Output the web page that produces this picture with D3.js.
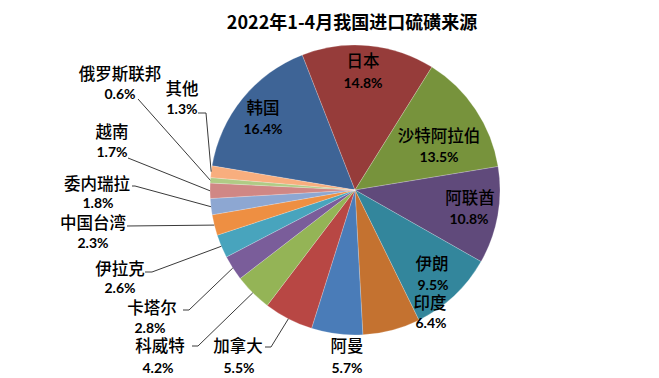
<!DOCTYPE html>
<html><head><meta charset="utf-8">
<script src="https://cdn.jsdelivr.net/npm/d3@7/dist/d3.min.js"></script>
<style>html,body{margin:0;padding:0;background:#fff;}</style>
</head><body><svg id="chart" width="659" height="378"></svg>
<script>
// ---- data ----
const title = "2022年1-4月我国进口硫磺来源";
const categories = ["韩国","日本","沙特阿拉伯","阿联酋","伊朗","印度","阿曼","加拿大","科威特","卡塔尔","伊拉克","中国台湾","委内瑞拉","越南","俄罗斯联邦","其他"];
const shares = [16.4,14.8,13.5,10.8,9.5,6.4,5.7,5.5,4.2,2.8,2.6,2.3,1.8,1.7,0.6,1.3];
const shareLabels = ["16.4%","14.8%","13.5%","10.8%","9.5%","6.4%","5.7%","5.5%","4.2%","2.8%","2.6%","2.3%","1.8%","1.7%","0.6%","1.3%"];

// ---- style / layout ----
const colors = ["#3E6496","#963C3A","#77933C","#604A7B","#33869C","#C47230",
                "#4A7CB8","#B84744","#94B456","#7A5D9A","#48A4BD","#EE8F42",
                "#8DA7D2","#D08785","#B0CB85","#F8AE7E"];
const cx = 355, cy = 190, R = 145;
const startDeg = -80.4;
// label placement: name centre, percent centre, leader start/elbow points
const labelLayout = {
  "韩国":     {x:263, y:107, px:263, py:128},
  "日本":     {x:363, y:60,  px:363, py:82},
  "沙特阿拉伯":{x:439, y:135, px:439, py:156},
  "阿联酋":   {x:470, y:197, px:469, py:218},
  "伊朗":     {x:432, y:263, px:433, py:284},
  "印度":     {x:430, y:302, px:431, py:322},
  "阿曼":     {x:347, y:345, px:347, py:367},
  "加拿大":   {x:238, y:345, px:239, py:367, lead:[[265,347],[271,347]]},
  "科威特":   {x:160, y:345, px:158, py:367, lead:[[192,346],[198,346]]},
  "卡塔尔":   {x:152, y:307, px:150, py:327, lead:[[183,310],[189,310]]},
  "伊拉克":   {x:120, y:268, px:120, py:287, lead:[[145,272],[152,272]]},
  "中国台湾": {x:93,  y:222, px:93,  py:242, lead:[[127,226]]},
  "委内瑞拉": {x:97,  y:183, px:98,  py:202, lead:[[132,186],[135,186]]},
  "越南":     {x:112, y:131, px:112, py:151, lead:[[128,158]]},
  "俄罗斯联邦":{x:120, y:73, px:120, py:93,  lead:[[138,99]]},
  "其他":     {x:182, y:88,  px:182, py:108, lead:[[198,113],[206,113]]}
};

const svg = d3.select("#chart");
const data = categories.map((c,i)=>({name:c, value:shares[i], label:shareLabels[i], color:colors[i]}));

const start = startDeg*Math.PI/180;
const pie = d3.pie().sort(null).value(d=>d.value).startAngle(start).endAngle(start+2*Math.PI);
const arcs = pie(data);
const arc = d3.arc().innerRadius(0).outerRadius(R);

const g = svg.append("g").attr("transform",`translate(${cx},${cy})`);
g.selectAll("path.slice").data(arcs).enter().append("path")
  .attr("class","slice")
  .attr("d",arc)
  .attr("fill",d=>d.data.color)
  .attr("stroke","#ffffff").attr("stroke-opacity",0.35).attr("stroke-width",0.6);

// leader lines
const line = d3.line();
arcs.forEach(a=>{
  const L = labelLayout[a.data.name];
  if(!L.lead) return;
  const mid = (a.startAngle+a.endAngle)/2;
  const p = d3.pointRadial(mid, R);
  const pts = L.lead.concat([[cx+p[0], cy+p[1]]]);
  svg.append("path").attr("d",line(pts)).attr("fill","none")
    .attr("stroke","#3a3a3a").attr("stroke-width",1);
});

// labels
arcs.forEach(a=>{
  const L = labelLayout[a.data.name];
  svg.append("text").attr("x",L.x).attr("y",L.y)
    .attr("text-anchor","middle").attr("dominant-baseline","central")
    .attr("font-family","'Noto Sans CJK SC','Noto Sans CJK JP',sans-serif")
    .attr("font-size","16.5px").attr("font-weight",500).attr("fill","#000")
    .text(a.data.name);
  svg.append("text").attr("x",L.px).attr("y",L.py)
    .attr("text-anchor","middle").attr("dominant-baseline","central")
    .attr("font-family","Lato,'Liberation Sans',sans-serif")
    .attr("font-size","14px").attr("font-weight","bold").attr("fill","#000")
    .text(a.data.label);
});

// title
svg.append("text").attr("x",352).attr("y",21)
  .attr("text-anchor","middle").attr("dominant-baseline","central")
  .attr("font-family","'Noto Sans CJK SC',sans-serif")
  .attr("font-size","18px").attr("font-weight","bold").attr("fill","#000")
  .text(title);
</script></body></html>
